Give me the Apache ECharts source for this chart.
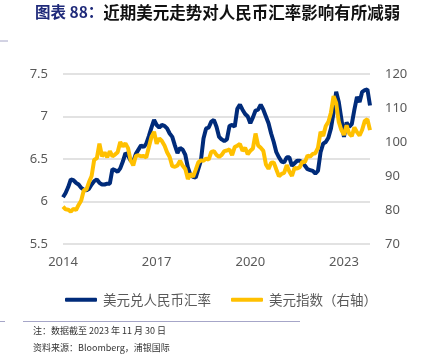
<!DOCTYPE html>
<html><head><meta charset="utf-8">
<script src="https://cdn.jsdelivr.net/npm/echarts@6/dist/echarts.min.js"></script>
<style>html,body{margin:0;padding:0;background:#fff}#c{width:430px;height:359px}</style>
</head><body><div id="c"></div>
<script>
// Monthly observations Jan 2014 – Nov 2023
const years = [2014,2015,2016,2017,2018,2019,2020,2021,2022,2023];
const months = [];
years.forEach(y => { for (let m = 1; m <= 12; m++) { if (y === 2023 && m > 11) break; months.push(y + '-' + (m < 10 ? '0' + m : m)); } });
const xTickYears = ['2014','2017','2020','2023'];

const usdcny = [
  6.05,6.10,6.17,6.26,6.25,6.22,6.20,6.16,6.14,6.13,6.15,6.20,
  6.24,6.26,6.22,6.20,6.20,6.21,6.21,6.38,6.37,6.35,6.39,6.47,
  6.57,6.54,6.48,6.47,6.56,6.61,6.66,6.64,6.68,6.77,6.87,6.96,
  6.90,6.87,6.90,6.89,6.86,6.80,6.76,6.66,6.57,6.63,6.61,6.55,
  6.40,6.31,6.29,6.28,6.38,6.48,6.74,6.86,6.87,6.94,6.96,6.88,
  6.76,6.73,6.71,6.73,6.89,6.90,6.88,7.09,7.14,7.08,7.03,7.00,
  6.92,6.99,7.07,7.08,7.14,7.08,7.00,6.92,6.80,6.70,6.58,6.52,
  6.47,6.46,6.52,6.52,6.42,6.45,6.48,6.48,6.46,6.42,6.38,6.37,
  6.36,6.33,6.36,6.58,6.68,6.70,6.75,6.86,7.05,7.29,7.17,6.97,
  6.76,6.93,6.88,6.91,7.08,7.23,7.17,7.29,7.31,7.32,7.13
];
const dxy = [
  81.0,80.2,80.1,79.5,80.3,80.0,81.5,82.8,85.8,86.0,88.2,90.0,
  94.8,95.2,99.5,95.8,96.9,95.5,97.3,95.8,96.3,97.0,100.0,98.7,
  99.6,98.2,94.6,93.1,95.9,96.1,95.8,95.9,95.4,98.5,101.5,103.0,
  99.5,101.1,100.3,99.0,97.0,95.6,92.9,92.7,93.1,94.5,93.0,92.1,
  89.1,90.6,89.8,91.8,94.0,94.6,94.5,95.1,94.8,97.1,97.3,96.2,
  95.6,96.2,97.3,97.5,97.8,96.1,98.5,98.9,99.4,97.4,98.3,96.4,
  97.4,98.1,102.5,99.0,98.3,97.4,93.4,92.1,93.9,94.0,91.9,89.9,
  90.6,90.9,93.2,91.3,90.0,92.4,92.2,92.6,94.2,94.1,96.0,95.7,
  96.5,96.7,98.3,103.0,101.8,104.7,105.9,108.7,113.5,111.5,105.9,103.5,
  102.1,104.9,102.5,101.7,104.3,102.9,101.9,103.6,106.2,106.7,103.5
];

const chart = echarts.init(document.getElementById('c'), null, {renderer: 'canvas'});
const axisFont = {color: '#595959', fontSize: 13, fontFamily: 'Noto Sans'};
chart.setOption({
  animation: false,
  backgroundColor: '#fff',
  grid: {left: 63, right: 60, top: 74, bottom: 115, containLabel: false},
  xAxis: {
    type: 'category', data: months, boundaryGap: false,
    axisLine: {show: false}, axisTick: {show: false}, splitLine: {show: false},
    axisLabel: Object.assign({
      margin: 12,
      interval: (i, v) => v.slice(5) === '01' && xTickYears.indexOf(v.slice(0,4)) >= 0,
      formatter: v => v.slice(0,4)
    }, axisFont)
  },
  yAxis: [
    {type: 'value', min: 5.5, max: 7.5, interval: 0.5,
     axisLine: {show: false}, axisTick: {show: false},
     splitLine: {lineStyle: {color: '#D9D9D9', width: 1.5}},
     axisLabel: Object.assign({margin: 15}, axisFont)},
    {type: 'value', min: 70, max: 120, interval: 10,
     axisLine: {show: false}, axisTick: {show: false}, splitLine: {show: false},
     axisLabel: Object.assign({margin: 15}, axisFont)}
  ],
  legend: {
    left: 60, top: 288, itemWidth: 32, itemHeight: 4, itemGap: 20,
    icon: 'roundRect',
    textStyle: {color: '#595959', fontSize: 13.5, fontFamily: 'Noto Sans CJK SC', padding: [0,0,0,1]},
    data: ['美元兑人民币汇率', '美元指数（右轴）']
  },
  series: [
    {name: '美元兑人民币汇率', type: 'line', data: usdcny, yAxisIndex: 0, symbol: 'none',
     lineStyle: {color: '#002B7A', width: 4}, itemStyle: {color: '#002B7A'}},
    {name: '美元指数（右轴）', type: 'line', data: dxy, yAxisIndex: 1, symbol: 'none',
     lineStyle: {color: '#FFC000', width: 4}, itemStyle: {color: '#FFC000'}}
  ],
  graphic: [
    {type: 'text', left: 35, top: 4, style: {
      text: '{a|图表 88：}{b|近期美元走势对人民币汇率影响有所减弱}',
      rich: {
        a: {fill: '#1F2A7A', fontSize: 15.5, fontWeight: 'bold', fontFamily: 'Noto Sans CJK SC'},
        b: {fill: '#111', fontSize: 16.5, fontWeight: 'bold', fontFamily: 'Noto Sans CJK SC'}
      }}},
    {type: 'line', shape: {x1: 0, y1: 41, x2: 8, y2: 41}, style: {stroke: '#A6A6C8', lineWidth: 1}},
    {type: 'line', shape: {x1: 0, y1: 321.5, x2: 5, y2: 321.5}, style: {stroke: '#A6A6C8', lineWidth: 1}},
    {type: 'line', shape: {x1: 23, y1: 321.5, x2: 300, y2: 321.5}, style: {stroke: '#A6A6C8', lineWidth: 1}},
    {type: 'text', left: 33, top: 326, style: {text: '注：数据截至 2023 年 11 月 30 日', fill: '#333', fontSize: 9, fontFamily: 'Noto Sans CJK SC'}},
    {type: 'text', left: 33, top: 343, style: {text: '资料来源：Bloomberg，浦银国际', fill: '#333', fontSize: 9, fontFamily: 'Noto Sans CJK SC'}}
  ]
});
</script></body></html>
